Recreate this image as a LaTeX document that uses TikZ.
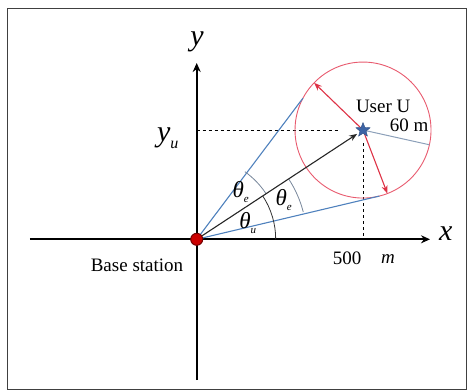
\documentclass[tikz,border=0pt]{standalone}
\usepackage{fontspec}
\setmainfont{Liberation Serif}
\usetikzlibrary{arrows.meta,shapes.geometric,calc}
\definecolor{lblue}{RGB}{79,129,189}
\definecolor{cred}{RGB}{232,90,110}
\definecolor{ared}{RGB}{222,50,70}
\definecolor{rgray}{RGB}{140,160,185}
\definecolor{agray}{RGB}{120,135,155}
\definecolor{sblue}{RGB}{60,100,165}
\tikzset{
  axis/.style={line width=1.8pt, -{Stealth[length=9pt,width=8pt]}},
  tanline/.style={lblue, line width=1.1pt},
  redarrow/.style={ared, line width=1.1pt, -{Stealth[length=8pt,width=6pt]}},
  guide/.style={black, dashed, line width=0.8pt},
  lbl/.style={inner sep=0pt, font=\fontsize{19}{22}\selectfont},
  mathlbl/.style={inner sep=0pt, font=\fontsize{30}{34}\selectfont\itshape},
  thlbl/.style={inner sep=0pt, font=\fontsize{23}{25}\selectfont\itshape}
}
\newcommand{\thsub}[1]{θ\raisebox{-0.45ex}{\fontsize{11}{12}\selectfont #1}}
\begin{document}
\begin{tikzpicture}[x=1pt,y=1pt]
\useasboundingbox (-196.7,-151.7) rectangle (271.3,239.3);
\draw[black!75, line width=0.8pt] (-189.7,-150.2) rectangle (269.3,231.3);
% geometry
\coordinate (O) at (0,0);
\coordinate (C) at (33.3:199);
\coordinate (T1) at ($(C)+(152:68)$);
\coordinate (T2) at ($(C)+(-76:68)$);
\coordinate (A1) at ($(C)+(136:68)$);
\coordinate (A2) at ($(C)+(-69:68)$);
\coordinate (R) at ($(C)+(-12.5:68)$);
\coordinate (xl) at (-166.7,0);
\coordinate (xr) at (233.3,0);
\coordinate (yb) at (0,-140.7);
\coordinate (yt) at (0,176.3);
\coordinate (hx) at (0,109.3);
\coordinate (hd) at (141,109.3);
\coordinate (vx) at (166.3,0);
\coordinate (vt) at (166.3,96);
% guides
\draw[guide] (hx) -- (hd);
\draw[guide] (vt) -- (vx);
% circle
\node[draw=cred, line width=0.9pt, circle, minimum size=136pt, inner sep=0pt] (circ) at (C) {};
% axes
\draw[axis] (xl) -- (xr);
\draw[axis] (yb) -- (yt);
% tangent lines
\draw[tanline] (O) -- (T1);
\draw[tanline] (O) -- (T2);
% radius line
\draw[rgray, line width=1pt] (C) -- (R);
% arcs
\draw[black!80, line width=0.8pt] (79,0) arc[start angle=0, end angle=33.3, radius=79];
\draw[agray, line width=0.8pt] (33.3:83) arc[start angle=33.3, end angle=54.5, radius=83];
\draw[agray, line width=0.8pt] (14.4:110) arc[start angle=14.4, end angle=33.3, radius=110];
% main arrow
\draw[black!85, line width=1.1pt, -{Stealth[length=8pt,width=6pt]}, shorten >=7pt] (O) -- (C);
% red arrows
\draw[redarrow] (C) -- (A1);
\draw[redarrow] (C) -- (A2);
% user star
\node[star, star points=5, star point ratio=2.3, fill=sblue, draw=sblue!80!black, minimum size=15pt, inner sep=0pt] (U) at (C) {};
% base station
\node[circle, fill=red!80!black, draw=red!45!black, line width=1pt, minimum size=12pt, inner sep=0pt] (BS) at (O) {};
% labels
\node[mathlbl] (xlab) at (249,6) {x};
\node[mathlbl] (ylab) at (0.3,197) {y};
\node[mathlbl] (yu) at (-29,101) {y\raisebox{-0.5ex}{\fontsize{16}{18}\selectfont u}};
\node[lbl] (user) at (186.5,132.5) {User U};
\node[lbl] (sixty) at (212.5,114.5) {60 m};
\node[lbl] (five) at (150.3,-18.7) {500};
\node[lbl, font=\fontsize{19}{22}\selectfont\itshape] (mm) at (191.3,-19.7) {m};
\node[lbl] (base) at (-59.7,-25.7) {Base station};
\node[thlbl] (the1) at (44,47) {\thsub{e}};
\node[thlbl] (the2) at (87,39) {\thsub{e}};
\node[thlbl] (thu) at (51,16) {\thsub{u}};
\end{tikzpicture}
\end{document}
